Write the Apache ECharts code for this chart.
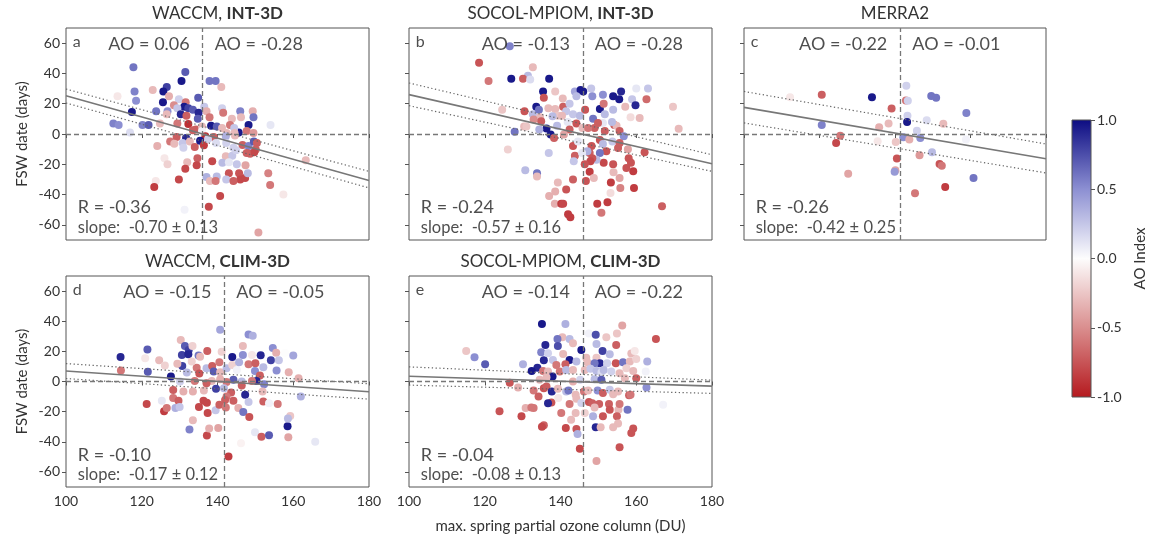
<!DOCTYPE html>
<html><head><meta charset="utf-8">
<script src="https://cdn.jsdelivr.net/npm/echarts@6/dist/echarts.min.js"></script>
<style>html,body{margin:0;padding:0;background:#fff;}#c{width:1151px;height:540px;}</style>
</head><body><div id="c"></div>
<script>
const xTicks = [100,120,140,160,180];
const yTicks = [-60,-40,-20,0,20,40,60];
const cbTicks = [-1,-0.5,0,0.5,1];
const panelTitles = [['WACCM, ','INT-3D'],['SOCOL-MPIOM, ','INT-3D'],['MERRA2',''],['WACCM, ','CLIM-3D'],['SOCOL-MPIOM, ','CLIM-3D']];
const panelLetters = ['a','b','c','d','e'];
const meanX = [136.1,145.9,141.4,141.8,145.9];
const aoLeft = ['AO = 0.06','AO = -0.13','AO = -0.22','AO = -0.15','AO = -0.14'];
const aoRight = ['AO = -0.28','AO = -0.28','AO = -0.01','AO = -0.05','AO = -0.22'];
const rLabels = ['R = -0.36','R = -0.24','R = -0.26','R = -0.10','R = -0.04'];
const slopeLabels = ['slope:  -0.70 \u00b1 0.13','slope:  -0.57 \u00b1 0.16','slope:  -0.42 \u00b1 0.25','slope:  -0.17 \u00b1 0.12','slope:  -0.08 \u00b1 0.13'];
// fitted line ends at x=100 and x=180
const fitSolid = [[25.2,-30.7],[26.0,-19.6],[17.6,-16.3],[7.0,-6.8],[3.5,-3.1]];
const fitUpper = [[29.7,-24.7],[33.7,-13.7],[28.1,-6.6],[11.9,-1.5],[9.7,0.9]];
const fitLower = [[20.5,-35.6],[18.7,-24.7],[7.3,-25.7],[2.0,-11.7],[-2.4,-7.9]];
// [ozone column, FSW date anomaly, AO index]
const pointsA = [[117.8,44,0.6],[131.5,41,0.7],[130.5,35,0.95],[137.9,35,0.6],[139.5,35,0.6],[141,31,-0.3],[126.6,31,0.8],[122.9,29,-0.3],[118.1,28,0.55],[125.7,28,0.95],[113.6,25,-0.1],[127.2,25,-0.35],[134.9,24,0.7],[118.5,22,0.5],[125.6,21,0.95],[129.8,23,0.2],[131.6,21,-0.6],[128.5,19,-0.5],[131.2,18,0.95],[132.3,17,0.8],[129.4,17,0.25],[136.5,18,0.25],[141.2,17,0.2],[123.8,15,0.6],[126.8,15,0.5],[133.5,16,0.7],[135,14,0.9],[137.1,15,-0.35],[141.5,14,-0.6],[146,15,0.55],[149.3,15,-0.35],[117.4,14.5,0.95],[126.6,13,-0.3],[130.3,13,0.9],[131.8,12,-0.7],[134.8,10,0.7],[137.9,11,-0.6],[146.2,11,-0.3],[143.8,10,-0.3],[149.5,11,0.6],[112.5,7,0.55],[113.9,6,0.5],[120.2,6,0.55],[121.8,6,0.7],[124.8,7,-0.3],[129.4,7,-0.6],[132.3,6.6,-0.9],[134.3,3,-0.7],[135.9,5,-0.3],[138.3,5.5,0.95],[139.8,5,0.7],[141.2,4,-0.3],[143.3,6,-0.6],[145.6,1,0.95],[148.2,6,0.95],[144.4,4,0.25],[147.7,2,-0.6],[154,6,0.1],[116.9,1,0.15],[133.5,2.4,-0.7],[135.9,2,0.05],[142.4,0.7,-0.3],[144.5,0.7,-0.3],[149.5,0.7,-0.45],[129.2,-2,-0.7],[131.7,-2.6,0.9],[136.8,-1.5,-0.9],[139,-2,-0.7],[142.2,-1.5,0.35],[144.6,-1,-0.3],[124.1,-8,-0.35],[127.5,-5,-0.6],[128.6,-6.4,-0.3],[130.8,-6,0.25],[131,-9,0.2],[132.7,-5,-0.3],[134,-8.6,-0.7],[135.4,-4.4,0.95],[136.4,-7.5,-0.85],[137.5,-3.3,0.2],[139.6,-6,0.15],[142.3,-6,0.2],[144.2,-9,0.2],[146.6,-7.3,-0.7],[148.2,-8,0.55],[149.6,-5,0.7],[150.4,-6,-0.7],[148.6,-13,-0.7],[150.1,-10.3,-0.7],[149.7,-12,-0.8],[134.7,-16,-0.7],[138.6,-18,-0.8],[142.2,-14.7,-0.3],[143.9,-14.3,0.25],[144.9,-10.8,0.2],[147.7,-12.5,-0.7],[126,-16,-0.1],[126.8,-20,-0.2],[132,-18.7,-0.3],[131.5,-23,-0.8],[134.5,-20.7,-0.8],[141.3,-19,0.3],[143,-18.7,0.1],[145.1,-20,0.25],[147.4,-20.7,-0.4],[163.3,-17.4,-0.3],[137.1,-28.4,0.35],[139.8,-28,0.3],[143,-26,-0.75],[145.7,-26,-0.75],[146,-30,-0.8],[147.3,-29,-0.8],[148,-26,0.3],[153.4,-26,-0.55],[153.9,-33.7,-0.6],[129.8,-30,-0.8],[123.7,-31,-0.1],[123.3,-35,-0.85],[138,-31,-0.3],[139.5,-31,-0.6],[142.3,-30,0.25],[144.2,-31,-0.7],[140.7,-41,-0.8],[157.4,-40,-0.1],[137.7,-48,-0.8],[131.3,-50,0.05],[150.8,-65,-0.4]];
const pointsB = [[126.6,58,0.55],[118.5,47,-0.75],[121,35,-0.6],[132.7,44,-0.3],[131.4,38.5,0.3],[127,36.5,0.95],[130.1,36.5,-0.7],[132,36,0.15],[137,36.5,0.95],[138.6,28,-0.25],[135.4,28,0.95],[135.6,24,-0.75],[133.6,18,0.95],[130.5,15,-0.75],[132.7,13,0.3],[134.3,16,0.6],[134.6,11,-0.3],[136.8,17,-0.3],[138.6,16.5,-0.3],[140.6,23.5,-0.3],[140.7,18,-0.7],[142.4,20,0.25],[143.8,28,0.4],[145.3,29,0.95],[146,28,0.95],[144.2,25,0.3],[148.1,30,0.25],[148.4,25,0.5],[151.2,26,0.5],[153.9,25,0.95],[156,28,0.9],[155.5,23,0.95],[160,30,0.1],[163.1,30,0.25],[158.9,23,0.25],[159.8,19,0.9],[162.7,23,-0.65],[157.1,18,-0.3],[169.7,18,-0.25],[171.2,3.5,-0.3],[146.5,16,-0.75],[150.4,16.5,0.95],[143.3,13,0.25],[141.5,15,0.25],[145.1,12,0.3],[139.3,12,-0.25],[139.1,5.5,0.3],[136.3,3.7,0.95],[137.4,-0.4,0.95],[138.3,-2.6,-0.7],[140.4,12,-0.3],[141.9,8,0.1],[144.2,7,-0.75],[142.4,3,-0.7],[140.9,-0.4,-0.4],[134.4,3,0.35],[127.9,1.5,0.6],[130.4,5,-0.3],[124.6,16,-0.25],[151.7,13,0.3],[151.4,20,-0.6],[153.9,16,0.3],[148.6,10,0.6],[149,4,-0.7],[145.8,4,-0.3],[147.3,4,-0.6],[154.2,6,-0.7],[154.8,5.5,-0.3],[158.5,11,-0.15],[160.9,10.5,-0.3],[153.6,8,0.3],[155.6,2,-0.7],[156.7,-1.5,0.5],[151.7,2,-0.7],[150.4,-4,-0.75],[151.2,-6.6,0.3],[153.7,-5,0.25],[155.6,-6,-0.7],[152.1,-11.4,-0.75],[155.2,-9.2,-0.7],[162.2,-12,-0.75],[157.8,-10,-0.4],[158,-16,-0.75],[158.6,-19,-0.75],[159.2,-24.6,-0.85],[157.4,-22.4,-0.75],[153.9,-20,-0.75],[151.4,-19,-0.8],[150.4,-12.5,0.6],[149.5,-17,0.3],[148.2,-8,-0.75],[147.7,-12.5,-0.7],[148.4,-16,-0.75],[147.9,-18,-0.8],[147.1,-11.4,0.35],[143.3,-8,-0.75],[143.8,-14.3,-0.7],[143.5,-18,0.25],[146.4,-20,-0.75],[144.6,-5,0.1],[145.7,-12.5,0.1],[147.7,-25,-0.85],[148.8,-29,-0.3],[146.7,-31,-0.75],[143.3,-30,-0.7],[141.5,-36.7,-0.75],[139.3,-32,-0.3],[138.6,-38,-0.35],[137,-41,-0.35],[138.5,-46,-0.35],[140.2,-46,-0.85],[140.7,-46,-0.8],[142,-53,-0.85],[142.6,-55,-0.85],[149.7,-46,-0.85],[152.4,-45,-0.85],[150.8,-52,-0.6],[153.2,-39,-0.15],[153.3,-32,-0.85],[155.8,-35.6,-0.55],[159.4,-35.6,-0.85],[155.6,-29,-0.4],[154,-25.3,-0.3],[166.8,-47.7,-0.7],[136.9,-12.5,0.25],[133.8,-26,0.6],[130.7,-24,0.3],[133.8,-28,-0.3],[126.1,-10.3,-0.2],[132.9,9.5,-0.5],[131,5,-0.25],[134.9,8.4,-0.7],[137.9,11.7,0.3],[151.2,7.3,0.1],[149.9,7.3,-0.7]];
const pointsC = [[112.2,24.2,-0.1],[120.6,26,-0.7],[133.9,24.2,0.95],[139.1,16.9,-0.7],[143,31.9,0.2],[142.9,22.2,-0.6],[143.4,22,0.2],[143.3,12.1,0.2],[143.2,7.9,0.95],[149.6,25.1,0.6],[150.9,24,0.6],[158.9,13.9,0.55],[148.4,9,0.15],[152.8,6.8,-0.3],[145.8,2.2,0.2],[138.3,7,-0.3],[135.8,4.4,-0.35],[120.6,5.9,0.55],[125.5,-1.1,-0.6],[124.4,-5.9,-0.8],[135.4,-4.8,-0.1],[140.2,-5.3,-0.25],[142.2,-2.2,0.5],[143.8,-3.7,-0.35],[146.7,-2.6,0.5],[140.5,-16.1,-0.75],[146.5,-14.1,-0.45],[149.8,-12.1,0.3],[151.8,-19.8,-0.75],[152.4,-20.9,-0.6],[140.1,-24,-0.4],[139.9,-24.9,0.45],[127.6,-26.2,-0.4],[160.8,-29,0.6],[153.3,-35,-0.85],[145.3,-39.2,-0.6],[158.8,-3.7,0.05]];
const pointsD = [[140.7,34.3,0.4],[148.2,31.2,0.5],[149.3,30.4,0.35],[114.4,16.3,0.9],[121.5,21.3,0.7],[114.5,7.3,-0.6],[120.9,15.4,-0.1],[121.6,6.4,0.7],[124.6,14.1,-0.3],[126.1,10.6,-0.2],[127.7,3.3,0.95],[130.3,27.5,-0.3],[131.4,23.5,0.7],[132.4,20.9,0.8],[133.4,23.5,-0.2],[130.6,17.6,0.8],[132.3,18,0.9],[135,17.2,0.6],[137.3,20.2,-0.7],[135.4,16.5,-0.3],[141.1,19.8,-0.2],[143.9,16.3,0.95],[146.7,23.5,-0.3],[146.7,17.6,0.5],[149.1,17.6,-0.1],[151.4,17.4,0.9],[154.6,22.2,0.5],[155.5,19.1,-0.35],[157.8,19.1,0],[160,17.2,0.4],[154.1,14.1,0.8],[156.2,14.1,0.25],[155.6,7.3,0.5],[158.8,6.2,-0.35],[161.4,2.2,-0.35],[162,-9.9,0.35],[130.7,10.3,0.8],[134.5,9.2,-0.6],[135.2,5.3,-0.75],[133.2,13.2,-0.2],[129.4,11.7,-0.3],[131.9,5.9,0.3],[137.1,8.8,0.3],[138.6,10.3,-0.7],[140.5,12.8,-0.6],[139,6.6,0.7],[140.7,6.2,-0.3],[142.4,8.8,0.3],[143.9,11,-0.2],[145.1,7.7,0.05],[145.7,12.8,0.35],[148.2,11.4,-0.6],[150,12.1,-0.7],[149.9,7,0.5],[152.1,9.5,0.3],[151.2,4,-0.7],[150.3,0.4,0.9],[152.3,-1.8,0.55],[149.1,0.4,-0.6],[146.4,0,0.3],[146.4,-2.6,-0.7],[144.2,1.1,0.7],[142.4,-0.4,-0.6],[140.7,1.5,-0.35],[138.5,0.4,-0.3],[134,0.4,-0.6],[130.1,0,0.2],[128.3,-5.7,-0.7],[131,-6.6,-0.35],[133.5,-6.6,-0.35],[136.4,-5.9,-0.3],[137.1,-1.1,-0.7],[139.6,-4.8,0.8],[141.7,-4.4,0.3],[143.6,-7.3,-0.7],[142.4,-9.9,-0.6],[147.3,-8.8,0.9],[148.2,-13.6,0.25],[151.9,-6.6,-0.3],[152.1,-13.2,-0.7],[153.6,-14.5,0.05],[155.9,-15,-0.6],[125.3,-12.8,0.1],[128.3,-11,-0.6],[129.7,-12.8,-0.7],[121.3,-15,-0.8],[125.9,-19.8,-0.85],[126.6,-17.6,-0.6],[128.9,-17.6,0.35],[130,-16.9,0.25],[135.1,-16.9,-0.8],[136.3,-12.8,-0.8],[137.2,-14.1,-0.8],[137.4,-20.9,-0.8],[139.5,-19.1,0.25],[140.5,-15.4,-0.7],[142.2,-17.2,-0.6],[142,-12.3,-0.7],[144.2,-12.8,-0.7],[145.5,-17.6,-0.35],[146.8,-20.2,0.6],[148.4,-23.5,-0.75],[133.5,-25.7,-0.3],[132.6,-31.9,0.55],[137.2,-35.9,-0.8],[137.8,-31.2,-0.35],[140.2,-30.8,-0.4],[149.9,-33.7,0.1],[151.6,-36.7,-0.7],[153.6,-35.6,0.7],[158.5,-29.7,0.95],[158.7,-37,-0.4],[159.2,-22.9,-0.25],[158.6,-24.6,0.3],[165.8,-40,0.1],[146.2,-40.9,-0.05],[142.9,-49.7,-0.85]];
const pointsE = [[135.1,38.1,0.95],[141.3,38.1,0.35],[156.3,37.2,-0.4],[165.2,28.2,-0.75],[147.5,31.9,0.05],[149.3,31,0.75],[152.1,29.3,-0.25],[154.9,31.9,-0.25],[140.5,29.3,-0.3],[139.2,28.2,0.6],[142.4,28.2,0.3],[143.3,25.3,-0.3],[136,24.2,0.9],[139.3,23.5,0.75],[149.5,24.9,0.3],[154.7,24.2,-0.7],[145.5,20.9,0.95],[151.1,20.2,0.8],[153,18,0.3],[158.7,18.5,-0.3],[159.6,20.2,-0.1],[115.1,20.2,-0.25],[117.3,16.1,0.5],[120.1,11.4,0.7],[134.9,19.4,0.55],[135.6,14.1,0.9],[136.7,18.7,0.2],[138,14.3,0.25],[140.7,18.3,-0.3],[142.4,14.3,0.95],[141.3,11.4,-0.7],[138.9,11,-0.6],[144.2,13.2,0.3],[146.8,15.8,-0.3],[147.1,12.8,-0.3],[149.5,15.8,-0.25],[150.4,12.1,0.9],[149,12.1,0.6],[152.3,12.1,0.2],[154.6,12.1,-0.75],[156.5,12.8,0.6],[158.3,13.2,-0.3],[160,15,-0.2],[162.9,13.2,0.35],[162.5,6.6,0.05],[130.1,11.4,0.35],[133.9,9.2,0.9],[132.4,7,0.95],[135.4,7,-0.6],[136.7,6.6,-0.3],[137.9,3.3,0.95],[139.8,6.6,-0.6],[141.5,7.7,0.3],[143.3,7.7,-0.3],[146.4,7.7,-0.3],[147.9,8.4,0.25],[149.5,7,0.3],[150.8,5.9,0.15],[151.4,7.7,0.3],[153.4,6.6,0.2],[155.6,5.5,-0.3],[157.4,8.8,-0.2],[159.2,7,-0.3],[134.5,1.1,-0.3],[136.3,2.9,-0.3],[143.3,0,-0.35],[145.2,1.1,0.2],[149,1.5,0.3],[150.8,1.1,0.7],[157,2.2,-0.3],[160,2.2,-0.7],[162.7,-4,0.5],[126.6,-0.9,-0.75],[128.8,-4,-0.35],[132.9,-5.9,-0.6],[135.6,-4.4,-0.75],[136.3,-3.3,-0.7],[137.7,-6.6,0.9],[139.3,-4.8,-0.3],[141.5,-6.6,0.3],[142.1,-5.9,0.6],[144,-8.8,-0.3],[146.2,-6.6,-0.6],[147.3,-5.9,-0.3],[149.8,-5.9,0.5],[151.2,-7.7,-0.7],[153,-5.5,0.25],[153.9,-8.4,-0.3],[155.2,-6.6,-0.3],[158.1,-9.2,-0.7],[158.5,-8.8,-0.6],[134.2,-9.9,-0.7],[137.6,-13.9,-0.75],[136.7,-14.5,0.9],[139.4,-11,-0.1],[142.4,-15,-0.6],[144.2,-11.4,-0.3],[145.5,-14.3,0.2],[147.5,-13.6,-0.75],[148.4,-14.5,-0.7],[150.2,-15,-0.7],[149,-17.2,-0.3],[152.8,-15,-0.7],[153,-18.7,-0.75],[155.3,-18.7,-0.3],[155.6,-15,-0.6],[157.7,-18.7,0.6],[123.9,-19.8,-0.75],[130.8,-17.6,-0.35],[132.3,-17.2,-0.6],[132.9,-17.6,-0.6],[129.7,-23.1,-0.8],[140.2,-20.9,-0.6],[144,-20.9,-0.3],[142.8,-25.3,-0.3],[146.4,-20.9,-0.2],[148.6,-23.1,0.35],[151.2,-23.1,-0.75],[154.9,-23.1,-0.7],[155.2,-27.9,-0.3],[153.9,-30.4,-0.3],[159.2,-31.2,-0.75],[158.7,-34.1,-0.75],[135.6,-29,-0.7],[135.1,-30.1,-0.8],[141.4,-30.8,-0.8],[144.2,-31.5,-0.75],[144.5,-34.8,0.35],[149.3,-30.4,0.9],[150.6,-30.4,-0.3],[155.6,-43.6,-0.75],[145.1,-44.7,-0.8],[149.5,-52.8,-0.4],[167.1,-15.4,0.05]];
const panelPoints = [pointsA, pointsB, pointsC, pointsD, pointsE];
const cmap = ['#b5191e','#da8e8e','#fdfdfd','#8c8fd2','#0c0c82'];

const FONT = 'Lato, "DejaVu Sans", sans-serif';
const TXT = '#222';
const gridBoxes = [
  {left:66, top:28, width:303, height:212},
  {left:409, top:28, width:303, height:212},
  {left:744, top:28, width:302, height:212},
  {left:66, top:276, width:303, height:211},
  {left:409, top:276, width:303, height:211}
];
const showXLabel = [false,false,false,true,true];
const showYLabel = [true,false,false,true,false];

const grid = [], xAxis = [], yAxis = [], series = [], title = [];
const pointSeriesIdx = [];
gridBoxes.forEach((g,i)=>{
  grid.push(Object.assign({show:true, borderColor:'#555', borderWidth:1, backgroundColor:'transparent'}, g));
  xAxis.push({gridIndex:i, type:'value', min:100, max:180, interval:20,
    axisLine:{show:false}, splitLine:{show:false},
    axisTick:{show:true, length:4, lineStyle:{color:'#555'}},
    axisLabel:{show:showXLabel[i], fontSize:14, color:'#333', margin:7, fontFamily:FONT},
    name: i===4 ? 'max. spring partial ozone column (DU)' : '',
    nameLocation:'middle', nameGap:32,
    nameTextStyle:{fontSize:15, color:'#333', fontFamily:FONT}});
  yAxis.push({gridIndex:i, type:'value', min:-70, max:70,
    axisLine:{show:false}, splitLine:{show:false},
    axisTick:{show:true, length:4, lineStyle:{color:'#555'}, customValues:yTicks},
    axisLabel:{show:showYLabel[i], fontSize:14, color:'#333', margin:6, fontFamily:FONT, customValues:yTicks},
    name: showYLabel[i] ? 'FSW date (days)' : '',
    nameLocation:'middle', nameGap:36,
    nameTextStyle:{fontSize:15, color:'#333', fontFamily:FONT}});
  const t = panelTitles[i];
  title.push({text: t[1] ? `{n|${t[0]}}{b|${t[1]}}` : `{n|${t[0]}}`,
    left: g.left + g.width/2, top: g.top - 23, textAlign:'center', padding:0,
    textStyle:{fontWeight:'normal', fontSize:17, color:'#333', fontFamily:FONT,
      rich:{n:{fontSize:17, color:'#333', fontWeight:'normal', fontFamily:FONT}, b:{fontSize:17, color:'#333', fontWeight:'bold', fontFamily:FONT}}}});
  pointSeriesIdx.push(series.length);
  series.push({type:'scatter', xAxisIndex:i, yAxisIndex:i, data:panelPoints[i], symbolSize:8,
    itemStyle:{opacity:1}, z:2, silent:true});
  const lineBase = {type:'line', xAxisIndex:i, yAxisIndex:i, showSymbol:false, symbol:'none', silent:true, z:4};
  series.push(Object.assign({}, lineBase, {data:[[100,fitSolid[i][0]],[180,fitSolid[i][1]]],
    lineStyle:{color:'#777', width:1.6},
    markLine:{silent:true, symbol:'none', label:{show:false},
      lineStyle:{color:'#777', width:1.3, type:[5,3]},
      data:[{xAxis:meanX[i]},{yAxis:0}]}}));
  series.push(Object.assign({}, lineBase, {data:[[100,fitUpper[i][0]],[180,fitUpper[i][1]]],
    lineStyle:{color:'#666', width:1.2, type:[1.3,2.5]}}));
  series.push(Object.assign({}, lineBase, {data:[[100,fitLower[i][0]],[180,fitLower[i][1]]],
    lineStyle:{color:'#666', width:1.2, type:[1.3,2.5]}}));
  const lab = (txt,pos,dist,size)=>({show:true, formatter:txt, position:pos, distance:dist, fontSize:size, color:TXT, fontFamily:FONT});
  series.push({type:'scatter', xAxisIndex:i, yAxisIndex:i, symbolSize:0, silent:true, z:5,
    data:[
      {value:[meanX[i],59], label:lab(aoLeft[i],'left',13,18)},
      {value:[meanX[i],59], label:lab(aoRight[i],'right',12,18)},
      {value:[101.8,61], label:lab(panelLetters[i],'right',0,16)},
      {value:[103.1,-48.6], label:lab(rLabels[i],'right',0,18)},
      {value:[103.1,-62], label:lab(slopeLabels[i],'right',0,16.5)}
    ]});
});

// colorbar
grid.push({left:1072, top:120, width:19, height:277, show:true, borderColor:'#555', borderWidth:1,
  backgroundColor: new echarts.graphic.LinearGradient(0,0,0,1, cmap.slice().reverse().map((c,k)=>({offset:k/(cmap.length-1), color:c})))});
xAxis.push({gridIndex:5, type:'category', data:['cb'], show:false});
yAxis.push({gridIndex:5, type:'value', min:-1, max:1, interval:0.5, position:'right',
  axisLine:{show:false}, splitLine:{show:false},
  axisTick:{show:true, length:4, lineStyle:{color:'#555'}},
  axisLabel:{fontSize:14, color:'#333', margin:6, fontFamily:FONT, formatter:v=>v.toFixed(1)},
  name:'AO Index', nameLocation:'middle', nameRotate:90, nameGap:42,
  nameTextStyle:{fontSize:15, color:'#333', fontFamily:FONT}});
series.push({type:'scatter', xAxisIndex:5, yAxisIndex:5, data:[]});

const chart = echarts.init(document.getElementById('c'));
chart.setOption({
  animation:false,
  backgroundColor:'#fff',
  title, grid, xAxis, yAxis, series,
  visualMap:{type:'continuous', show:false, min:-1, max:1, dimension:2, seriesIndex:pointSeriesIdx,
    inRange:{color:cmap}}
});
</script></body></html>
